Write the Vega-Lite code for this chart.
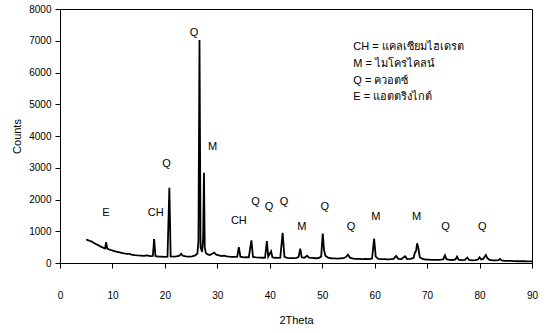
{
  "$schema": "https://vega.github.io/schema/vega-lite/v6.json",
  "width": 472,
  "height": 254,
  "autosize": {"type": "none"},
  "padding": {"left": 60, "top": 9, "right": 16, "bottom": 70},
  "background": "white",
  "config": {
    "view": {"stroke": "black", "strokeWidth": 1},
    "font": "Liberation Sans",
    "axis": {
      "grid": false,
      "domainColor": "black",
      "tickColor": "black",
      "labelColor": "black",
      "titleColor": "black",
      "labelFont": "Liberation Sans",
      "titleFont": "Liberation Sans",
      "labelFontSize": 10,
      "titleFontSize": 11,
      "titleFontWeight": "normal",
      "tickSize": 5,
      "labelOverlap": false,
      "labelFlush": false
    }
  },
  "datasets": {
    "xrd": [
      {"t": 5.0, "c": 740}, {"t": 5.3, "c": 720}, {"t": 5.6, "c": 700}, {"t": 6.0, "c": 680},
      {"t": 6.4, "c": 640}, {"t": 6.8, "c": 600}, {"t": 7.2, "c": 570}, {"t": 7.6, "c": 530},
      {"t": 8.0, "c": 500}, {"t": 8.4, "c": 470}, {"t": 8.6, "c": 460}, {"t": 8.8, "c": 660},
      {"t": 9.0, "c": 460}, {"t": 9.3, "c": 430}, {"t": 9.7, "c": 410}, {"t": 10.2, "c": 380},
      {"t": 10.7, "c": 360}, {"t": 11.2, "c": 340}, {"t": 11.7, "c": 320}, {"t": 12.2, "c": 300},
      {"t": 12.8, "c": 285}, {"t": 13.3, "c": 290}, {"t": 13.6, "c": 265}, {"t": 14.2, "c": 250},
      {"t": 14.8, "c": 240}, {"t": 15.4, "c": 235}, {"t": 16.0, "c": 225}, {"t": 16.6, "c": 240},
      {"t": 17.2, "c": 215}, {"t": 17.7, "c": 220}, {"t": 17.95, "c": 750}, {"t": 18.2, "c": 220},
      {"t": 18.7, "c": 205}, {"t": 19.3, "c": 200}, {"t": 19.9, "c": 195}, {"t": 20.5, "c": 200},
      {"t": 20.85, "c": 2370}, {"t": 21.1, "c": 210}, {"t": 21.6, "c": 200}, {"t": 22.2, "c": 210},
      {"t": 22.8, "c": 230}, {"t": 23.1, "c": 290}, {"t": 23.4, "c": 230}, {"t": 24.0, "c": 210},
      {"t": 24.6, "c": 200}, {"t": 25.2, "c": 210}, {"t": 25.8, "c": 240}, {"t": 26.2, "c": 300},
      {"t": 26.4, "c": 700}, {"t": 26.6, "c": 7020}, {"t": 26.8, "c": 500}, {"t": 27.1, "c": 350},
      {"t": 27.3, "c": 800}, {"t": 27.45, "c": 2840}, {"t": 27.6, "c": 500}, {"t": 27.8, "c": 320},
      {"t": 28.1, "c": 280}, {"t": 28.5, "c": 250}, {"t": 28.8, "c": 270}, {"t": 29.4, "c": 330},
      {"t": 29.8, "c": 260}, {"t": 30.3, "c": 240}, {"t": 30.8, "c": 220}, {"t": 31.3, "c": 230},
      {"t": 31.8, "c": 210}, {"t": 32.3, "c": 200}, {"t": 32.8, "c": 195}, {"t": 33.3, "c": 190},
      {"t": 33.8, "c": 200}, {"t": 34.1, "c": 500}, {"t": 34.4, "c": 200}, {"t": 35.0, "c": 180},
      {"t": 35.5, "c": 185}, {"t": 36.0, "c": 180}, {"t": 36.5, "c": 715}, {"t": 36.8, "c": 190},
      {"t": 37.4, "c": 175}, {"t": 38.0, "c": 170}, {"t": 38.6, "c": 165}, {"t": 39.1, "c": 170},
      {"t": 39.45, "c": 690}, {"t": 39.7, "c": 200}, {"t": 40.25, "c": 370}, {"t": 40.5, "c": 180},
      {"t": 41.0, "c": 165}, {"t": 41.6, "c": 160}, {"t": 42.0, "c": 165}, {"t": 42.45, "c": 950},
      {"t": 42.8, "c": 190}, {"t": 43.3, "c": 160}, {"t": 43.9, "c": 155}, {"t": 44.5, "c": 155},
      {"t": 45.1, "c": 160}, {"t": 45.5, "c": 190}, {"t": 45.8, "c": 450}, {"t": 46.1, "c": 180},
      {"t": 46.6, "c": 165}, {"t": 47.1, "c": 230}, {"t": 47.5, "c": 170}, {"t": 48.1, "c": 160},
      {"t": 48.7, "c": 150}, {"t": 49.3, "c": 155}, {"t": 49.8, "c": 200}, {"t": 50.1, "c": 930},
      {"t": 50.35, "c": 400}, {"t": 50.6, "c": 230}, {"t": 51.1, "c": 170}, {"t": 51.7, "c": 150},
      {"t": 52.3, "c": 145}, {"t": 52.9, "c": 140}, {"t": 53.5, "c": 145}, {"t": 54.1, "c": 150},
      {"t": 54.6, "c": 200}, {"t": 54.9, "c": 260}, {"t": 55.3, "c": 170}, {"t": 55.9, "c": 140},
      {"t": 56.5, "c": 130}, {"t": 57.1, "c": 130}, {"t": 57.7, "c": 125}, {"t": 58.3, "c": 130},
      {"t": 58.9, "c": 125}, {"t": 59.5, "c": 140}, {"t": 59.9, "c": 765}, {"t": 60.2, "c": 200},
      {"t": 60.7, "c": 130}, {"t": 61.3, "c": 120}, {"t": 61.9, "c": 120}, {"t": 62.5, "c": 115},
      {"t": 63.1, "c": 120}, {"t": 63.6, "c": 130}, {"t": 64.1, "c": 225}, {"t": 64.5, "c": 130},
      {"t": 65.1, "c": 125}, {"t": 65.8, "c": 210}, {"t": 66.2, "c": 125}, {"t": 66.8, "c": 130},
      {"t": 67.4, "c": 160}, {"t": 67.7, "c": 340}, {"t": 67.9, "c": 380}, {"t": 68.1, "c": 620},
      {"t": 68.35, "c": 450}, {"t": 68.6, "c": 180}, {"t": 69.1, "c": 130}, {"t": 69.7, "c": 110},
      {"t": 70.3, "c": 105}, {"t": 70.9, "c": 100}, {"t": 71.5, "c": 100}, {"t": 72.1, "c": 100},
      {"t": 72.7, "c": 105}, {"t": 73.1, "c": 120}, {"t": 73.4, "c": 240}, {"t": 73.7, "c": 120},
      {"t": 74.3, "c": 100}, {"t": 74.9, "c": 95}, {"t": 75.4, "c": 110}, {"t": 75.7, "c": 200},
      {"t": 76.0, "c": 105}, {"t": 76.6, "c": 90}, {"t": 77.2, "c": 95}, {"t": 77.65, "c": 170},
      {"t": 78.0, "c": 95}, {"t": 78.6, "c": 85}, {"t": 79.2, "c": 90}, {"t": 79.7, "c": 110},
      {"t": 80.0, "c": 180}, {"t": 80.3, "c": 110}, {"t": 80.7, "c": 130}, {"t": 81.2, "c": 250},
      {"t": 81.5, "c": 150}, {"t": 81.9, "c": 100}, {"t": 82.5, "c": 85}, {"t": 83.1, "c": 80},
      {"t": 83.6, "c": 90}, {"t": 83.9, "c": 130}, {"t": 84.2, "c": 80}, {"t": 84.8, "c": 70},
      {"t": 85.4, "c": 65}, {"t": 86.0, "c": 65}, {"t": 86.6, "c": 60}, {"t": 87.2, "c": 55},
      {"t": 87.8, "c": 60}, {"t": 88.4, "c": 55}, {"t": 89.0, "c": 50}, {"t": 89.6, "c": 50},
      {"t": 90.0, "c": 50}
    ],
    "peaks": [
      {"t": 8.76, "c": 1585, "label": "E"},
      {"t": 18.25, "c": 1585, "label": "CH"},
      {"t": 20.3, "c": 3118, "label": "Q"},
      {"t": 25.55, "c": 7244, "label": "Q"},
      {"t": 29.1, "c": 3663, "label": "M"},
      {"t": 34.1, "c": 1332, "label": "CH"},
      {"t": 37.3, "c": 1912, "label": "Q"},
      {"t": 39.85, "c": 1773, "label": "Q"},
      {"t": 42.7, "c": 1912, "label": "Q"},
      {"t": 46.1, "c": 1143, "label": "M"},
      {"t": 50.5, "c": 1773, "label": "Q"},
      {"t": 55.5, "c": 1143, "label": "Q"},
      {"t": 60.2, "c": 1458, "label": "M"},
      {"t": 68.0, "c": 1458, "label": "M"},
      {"t": 73.5, "c": 1143, "label": "Q"},
      {"t": 80.5, "c": 1143, "label": "Q"}
    ],
    "legend": [
      {"t": 55.93, "c": 6794, "label": "CH = แคลเซียมไฮเดรต"},
      {"t": 55.93, "c": 6268, "label": "M = ไมโครไคลน์"},
      {"t": 55.93, "c": 5742, "label": "Q = ควอตซ์"},
      {"t": 55.93, "c": 5219, "label": "E = แอตตริงไกต์"}
    ]
  },
  "encoding": {
    "x": {"field": "t", "type": "quantitative",
          "scale": {"domain": [0, 90], "nice": false},
          "axis": {"title": "2Theta", "values": [0, 10, 20, 30, 40, 50, 60, 70, 80, 90],
                   "labelPadding": 22, "titlePadding": 14}},
    "y": {"field": "c", "type": "quantitative",
          "scale": {"domain": [0, 8000], "nice": false},
          "axis": {"title": "Counts", "values": [0, 1000, 2000, 3000, 4000, 5000, 6000, 7000, 8000],
                   "tickCount": 9, "format": "d", "labelPadding": 4, "titlePadding": 6}}
  },
  "layer": [
    {
      "data": {"name": "xrd"},
      "mark": {"type": "line", "color": "black", "strokeWidth": 1.8, "clip": true}
    },
    {
      "data": {"name": "peaks"},
      "mark": {"type": "text", "fontSize": 11, "color": "black", "baseline": "middle", "align": "center",
               "font": "Liberation Sans"},
      "encoding": {
        "text": {"field": "label"}
      }
    },
    {
      "data": {"name": "legend"},
      "mark": {"type": "text", "fontSize": 11, "color": "black", "baseline": "middle", "align": "left",
               "font": "Liberation Sans, Noto Sans, DejaVu Sans, sans-serif"},
      "encoding": {
        "text": {"field": "label"}
      }
    }
  ]
}
